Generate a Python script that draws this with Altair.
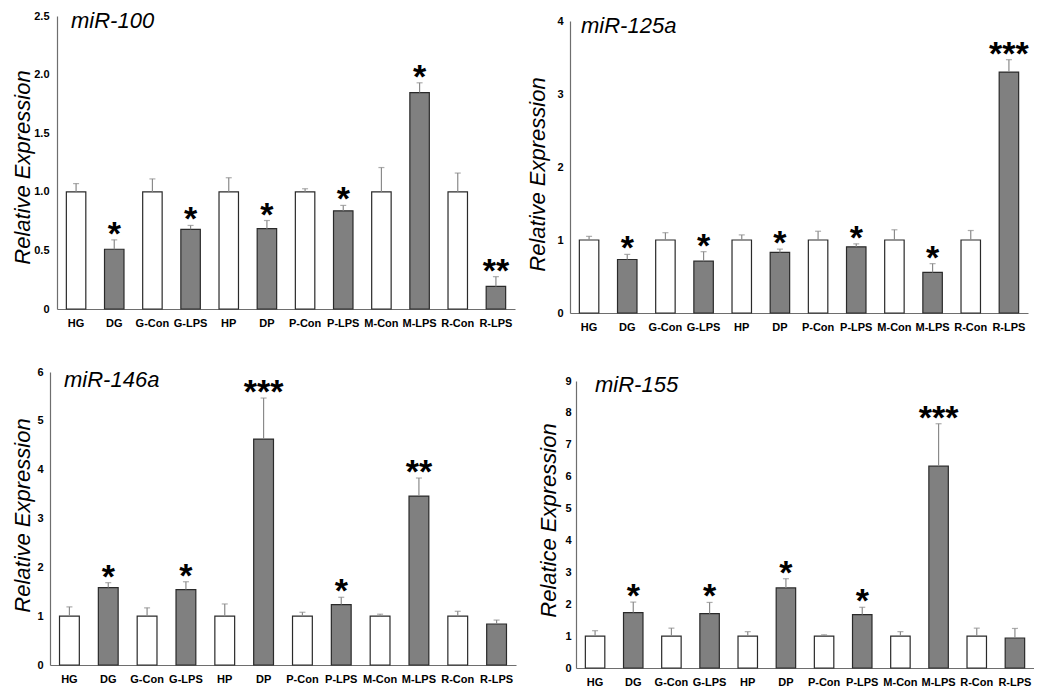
import altair as alt
import pandas as pd

categories = ["HG", "DG", "G-Con", "G-LPS", "HP", "DP", "P-Con", "P-LPS", "M-Con", "M-LPS", "R-Con", "R-LPS"]
groups = ["Control", "Treated"] * 6

mir100_values = [1.0, 0.51, 1.0, 0.68, 1.0, 0.685, 1.0, 0.838, 1.0, 1.847, 1.0, 0.193]
mir100_errors = [0.07, 0.08, 0.11, 0.033, 0.12, 0.07, 0.026, 0.046, 0.207, 0.083, 0.16, 0.083]
mir100_sig = ["", "*", "", "*", "", "*", "", "*", "", "*", "", "**"]

mir125a_values = [1.0, 0.733, 1.0, 0.71, 1.0, 0.83, 1.0, 0.907, 1.0, 0.556, 1.0, 3.30]
mir125a_errors = [0.05, 0.07, 0.10, 0.13, 0.07, 0.045, 0.12, 0.04, 0.14, 0.12, 0.13, 0.17]
mir125a_sig = ["", "*", "", "*", "", "*", "", "*", "", "*", "", "***"]

mir146a_values = [1.0, 1.586, 1.0, 1.545, 1.0, 4.627, 1.0, 1.237, 1.0, 3.459, 1.0, 0.84]
mir146a_errors = [0.19, 0.10, 0.17, 0.16, 0.25, 0.84, 0.08, 0.15, 0.04, 0.37, 0.10, 0.08]
mir146a_sig = ["", "*", "", "*", "", "***", "", "*", "", "**", "", ""]

mir155_values = [1.0, 1.737, 1.0, 1.706, 1.0, 2.51, 1.0, 1.674, 1.0, 6.33, 1.0, 0.94]
mir155_errors = [0.17, 0.33, 0.25, 0.35, 0.14, 0.29, 0.04, 0.23, 0.14, 1.33, 0.25, 0.30]
mir155_sig = ["", "*", "", "*", "", "*", "", "*", "", "***", "", ""]

FONT = "Liberation Sans"
AXIS_GRAY = "#6e6e6e"


def panel(name, ytitle, values, errors, sig, ymax, ticks, fmt, width, height,
          name_x, name_y, ytitle_x, ytitle_y, label_pad, ext_left, ext_top):
    df = pd.DataFrame({
        "cat": categories,
        "group": groups,
        "value": values,
        "upper": [v + e for v, e in zip(values, errors)],
        "sig": sig,
    })
    xenc = alt.X(
        "cat:N", sort=categories,
        scale=alt.Scale(paddingInner=0.49, paddingOuter=0.245),
        axis=alt.Axis(title=None, labelAngle=0, ticks=False, grid=False,
                      domainColor=AXIS_GRAY, domainWidth=1.2,
                      labelFont=FONT, labelFontSize=11, labelFontWeight="bold",
                      labelColor="black", labelPadding=8),
    )
    yscale = alt.Scale(domain=[0, ymax], nice=False, zero=True)
    yaxis = alt.Axis(
        values=ticks, tickCount=len(ticks), labelExpr=fmt, title=ytitle, grid=False, ticks=False,
        labelOverlap=False,
        domainColor=AXIS_GRAY, domainWidth=1.2,
        labelFont=FONT, labelFontSize=11, labelFontWeight="bold", labelColor="black",
        labelPadding=label_pad,
        titleFont=FONT, titleFontSize=22, titleFontStyle="italic", titleFontWeight="normal",
        titleColor="black", titleAngle=270, titleAlign="center", titleBaseline="alphabetic",
        titleX=ytitle_x, titleY=ytitle_y,
    )
    base = alt.Chart(df)
    bars = base.mark_bar(stroke="#2a2a2a", strokeWidth=1.2).encode(
        x=xenc,
        y=alt.Y("value:Q", scale=yscale, axis=yaxis),
        fill=alt.Fill("group:N", scale=alt.Scale(domain=["Control", "Treated"],
                                                range=["#ffffff", "#808080"]), legend=None),
    )
    err = base.mark_rule(color="#8a8a8a", strokeWidth=1.2).encode(
        x=alt.X("cat:N", sort=categories),
        y=alt.Y("value:Q"),
        y2="upper:Q",
    )
    cap = base.mark_tick(color="#8a8a8a", thickness=1.2, size=6, orient="horizontal").encode(
        x=alt.X("cat:N", sort=categories),
        y=alt.Y("upper:Q"),
    )
    stars = base.mark_text(font=FONT, fontSize=34, fontWeight="bold", color="black",
                           baseline="alphabetic", dy=5).encode(
        x=alt.X("cat:N", sort=categories),
        y=alt.Y("upper:Q"),
        text="sig:N",
    )
    label = alt.Chart(pd.DataFrame({"t": [name]})).mark_text(
        font=FONT, fontSize=22, fontStyle="italic", color="black",
        align="left", baseline="alphabetic",
    ).encode(text="t:N", x=alt.value(name_x), y=alt.value(name_y))
    # invisible anchor that fixes how far the panel reaches left and up
    anchor = alt.Chart(pd.DataFrame({"t": ["."]})).mark_text(
        fontSize=1, opacity=0, align="left", baseline="top",
    ).encode(text="t:N", x=alt.value(-ext_left), y=alt.value(-ext_top))
    return alt.layer(bars, err, cap, stars, label, anchor).properties(width=width, height=height)


def spacer():
    return alt.Chart(pd.DataFrame({"a": [0]})).mark_point(opacity=0, size=1).encode(
        x=alt.value(0), y=alt.value(0)
    ).properties(width=1, height=1)


int_fmt = "format(datum.value, 'd')"
dec_fmt = "datum.value == 0 ? '0' : format(datum.value, '.1f')"

p1 = panel("miR-100", "Relative Expression", mir100_values, mir100_errors, mir100_sig,
           2.5, [0, 0.5, 1.0, 1.5, 2.0, 2.5], dec_fmt, 458, 293, 14, 12, -28, 151, 8, 47, 6)
p2 = panel("miR-125a", "Relative Expression", mir125a_values, mir125a_errors, mir125a_sig,
           4, [0, 1, 2, 3, 4], int_fmt, 458, 292, 11, 12, -26, 153, 7, 47, 11)
p3 = panel("miR-146a", "Relative Expression", mir146a_values, mir146a_errors, mir146a_sig,
           6, [0, 1, 2, 3, 4, 5, 6], int_fmt, 466, 293, 14, 14.7, -21, 143, 7, 40, 44)
p4 = panel("miR-155", "Relatice Expression", mir155_values, mir155_errors, mir155_sig,
           9, list(range(10)), int_fmt, 458, 287, 19, 11, -21, 139, 5, 60, 48)

chart = alt.concat(
    spacer(), spacer(), spacer(),
    spacer(), p1, p2,
    spacer(), p3, p4,
    columns=3, align="none", spacing={"row": 0, "column": 0},
).properties(
    padding={"left": 0, "top": 0, "right": 0, "bottom": 0},
    background="white",
).configure_view(strokeWidth=0)

chart.save("out.html", embed_options={"renderer": "svg", "actions": False})
